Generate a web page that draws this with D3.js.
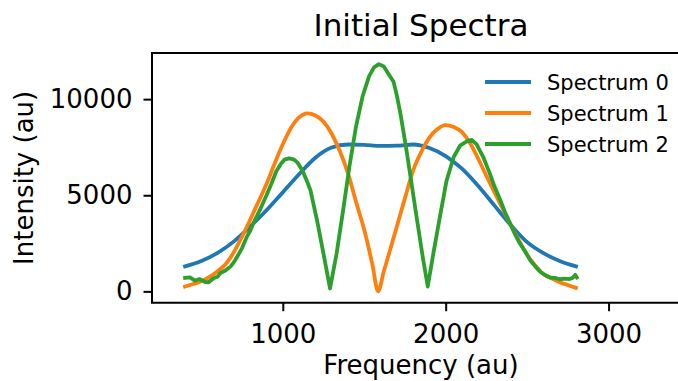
<!DOCTYPE html>
<html>
<head>
<meta charset="utf-8">
<script src="https://cdn.jsdelivr.net/npm/d3@7"></script>
<style>
  body { margin: 0; background: #fff; }
  text { font-family: "DejaVu Sans", sans-serif; fill: #000; }
</style>
</head>
<body>
<div id="chart"></div>
<script>
const width = 678;
const height = 381;

// Spectrum 0 (blue)
const freq0 = [400, 500, 600, 700, 800, 900, 1000, 1100, 1200, 1300, 1400, 1500, 1600,
  1700, 1800, 1900, 2000, 2100, 2200, 2300, 2400, 2500, 2600, 2700, 2800];
const spec0 = [1300, 1580, 2000, 2600, 3370, 4220, 5150, 6090, 6950, 7480, 7640, 7620, 7570,
  7580, 7640, 7460, 7040, 6380, 5480, 4460, 3440, 2560, 1990, 1580, 1300];

// Spectrum 1 (orange)
const freq1 = [400, 450, 500, 550, 600, 650, 700, 750, 800, 850, 900, 950, 1000, 1050, 1100,
  1150, 1200, 1250, 1300, 1350, 1400, 1450, 1500, 1550, 1585, 1620, 1650, 1700, 1750, 1800,
  1850, 1900, 1950, 2000, 2050, 2100, 2150, 2200, 2250, 2300, 2350, 2400, 2450, 2500, 2550,
  2600, 2650, 2700, 2750, 2800];
const spec1 = [250, 380, 520, 750, 1050, 1420, 2050, 2850, 3730, 4650, 5580, 6650, 7650, 8500, 9050,
  9260, 9150, 8820, 8200, 7300, 6150, 4650, 3200, 1400, 0, 1030, 1900, 3370, 4850, 6280,
  7250, 8000, 8450, 8650, 8550, 8280, 7700, 6900, 6000, 5150, 4300, 3450, 2650, 1900, 1350,
  900, 680, 480, 330, 180];

// Spectrum 2 (green)
const freq2 = [400, 430, 460, 490, 520, 545, 575, 600, 615, 650, 680, 700, 720, 750, 780, 800,
  820, 860, 900, 930, 960, 990, 1010, 1040, 1070, 1090, 1120, 1150, 1170, 1210, 1250, 1290,
  1330, 1370, 1410, 1450, 1490, 1530, 1560, 1590, 1620, 1650, 1680, 1700, 1720, 1740, 1760,
  1780, 1820, 1860, 1890, 1925, 1965, 2005, 2050, 2090, 2130, 2160, 2190, 2230, 2270, 2300,
  2335, 2365, 2395, 2430, 2455, 2490, 2520, 2550, 2580, 2610, 2640, 2670, 2700, 2730, 2760,
  2780, 2795, 2805];
const spec2 = [700, 730, 560, 640, 500, 470, 680, 760, 940, 1100, 1300, 1520, 1800, 2250, 2850, 3150,
  3550, 4250, 5000, 5600, 6250, 6650, 6850, 6920, 6850, 6700, 6300, 5700, 5250, 3700, 1950, 150,
  1950, 4200, 6550, 8600, 10150, 11200, 11650, 11820, 11700, 11300, 10900, 10200, 9350, 8350, 7300,
  6200, 3950, 1750, 250, 2000, 3900, 5750, 7000, 7600, 7800, 7880, 7650, 7000, 6150, 5450,
  4750, 4100, 3550, 2900, 2500, 2050, 1600, 1300, 1020, 850, 720, 700, 630, 660, 640,
  700, 860, 730];

const seriesNames = ['Spectrum 0', 'Spectrum 1', 'Spectrum 2'];
const colors = ['#1f77b4', '#ff7f0e', '#2ca02c'];
const xTicks = [1000, 2000, 3000];
const yTicks = [0, 5000, 10000];

const series = [
  freq0.map((f, i) => ({x: f, y: spec0[i]})),
  freq1.map((f, i) => ({x: f, y: spec1[i]})),
  freq2.map((f, i) => ({x: f, y: spec2[i]}))
];

const plotL = 152, plotR = 690, plotT = 53, plotB = 302.7;

const xScale = d3.scaleLinear().domain([197, 3500]).range([plotL, plotR]);
const yScale = d3.scaleLinear().domain([-590, 12400]).range([plotB, plotT]);

const svg = d3.select('#chart').append('svg')
  .attr('width', width)
  .attr('height', height);

svg.append('clipPath').attr('id', 'plotclip')
  .append('rect').attr('x', plotL).attr('y', plotT)
  .attr('width', plotR - plotL).attr('height', plotB - plotT);

const line = d3.line()
  .x(d => xScale(d.x))
  .y(d => yScale(d.y));

const plot = svg.append('g').attr('clip-path', 'url(#plotclip)');
series.forEach((s, i) => {
  plot.append('path')
    .datum(s)
    .attr('fill', 'none')
    .attr('stroke', colors[i])
    .attr('stroke-width', 3.8)
    .attr('stroke-linejoin', 'round')
    .attr('stroke-linecap', 'square')
    .attr('d', line.curve(i === 2 ? d3.curveLinear : d3.curveMonotoneX));
});

// axes
const xAxis = svg.append('g')
  .attr('transform', `translate(0,${plotB})`)
  .call(d3.axisBottom(xScale).tickValues(xTicks).tickSize(8.5).tickPadding(13).tickFormat(d3.format('d')));
const yAxis = svg.append('g')
  .attr('transform', `translate(${plotL},0)`)
  .call(d3.axisLeft(yScale).tickValues(yTicks).tickSize(8.5).tickPadding(11).tickFormat(d3.format('d')));

[xAxis, yAxis].forEach(a => {
  a.select('.domain').remove();
  a.selectAll('.tick line').attr('stroke', '#000').attr('stroke-width', 2);
  a.selectAll('.tick text').style('font-family', '"DejaVu Sans", sans-serif')
    .style('font-size', '26px').attr('fill', '#000');
});

// spines
svg.append('line').attr('x1', plotL).attr('x2', plotL).attr('y1', plotT).attr('y2', plotB)
  .attr('stroke', '#000').attr('stroke-width', 2);
svg.append('line').attr('x1', plotL).attr('x2', plotR).attr('y1', plotB).attr('y2', plotB)
  .attr('stroke', '#000').attr('stroke-width', 2).attr('stroke-linecap', 'square');
svg.append('line').attr('x1', plotL).attr('x2', plotR).attr('y1', plotT).attr('y2', plotT)
  .attr('stroke', '#000').attr('stroke-width', 2).attr('stroke-linecap', 'square');
svg.append('line').attr('x1', plotR).attr('x2', plotR).attr('y1', plotT).attr('y2', plotB)
  .attr('stroke', '#000').attr('stroke-width', 2);

// title and labels
svg.append('text')
  .attr('x', (plotL + plotR) / 2).attr('y', 36)
  .attr('text-anchor', 'middle')
  .style('font-size', '31px')
  .text('Initial Spectra');

svg.append('text')
  .attr('x', (plotL + plotR) / 2).attr('y', 374)
  .attr('text-anchor', 'middle')
  .style('font-size', '26px')
  .text('Frequency (au)');

svg.append('text')
  .attr('transform', `translate(33,${(plotT + plotB) / 2}) rotate(-90)`)
  .attr('text-anchor', 'middle')
  .style('font-size', '26px')
  .text('Intensity (au)');

// legend
const legend = svg.append('g').attr('transform', 'translate(485,82)');
seriesNames.forEach((name, i) => {
  const g = legend.append('g').attr('transform', `translate(0,${i * 31})`);
  g.append('line').attr('x1', 0).attr('x2', 46).attr('y1', 0).attr('y2', 0)
    .attr('stroke', colors[i]).attr('stroke-width', 3.8);
  g.append('text').attr('x', 62).attr('y', 7.5)
    .style('font-size', '21px')
    .text(name);
});
</script>
</body>
</html>
